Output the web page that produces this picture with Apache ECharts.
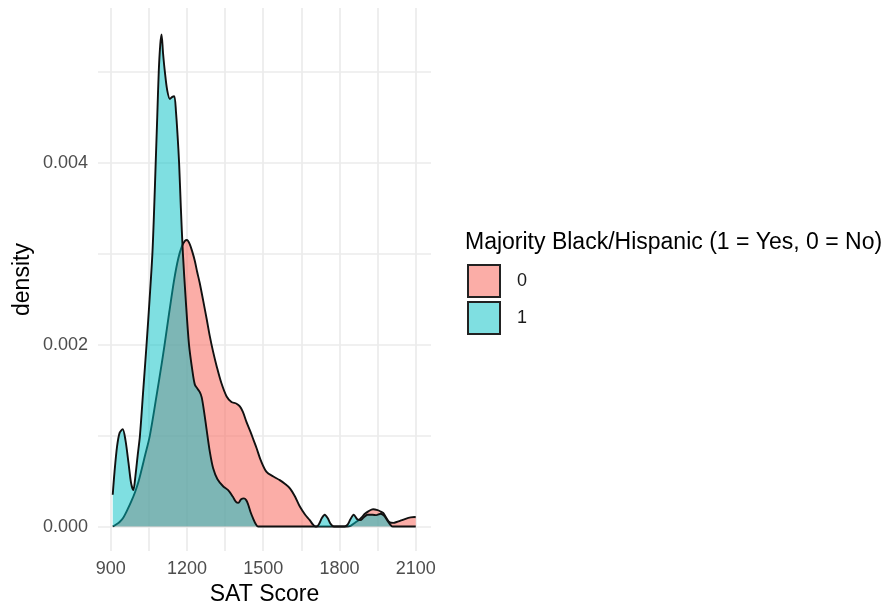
<!DOCTYPE html>
<html>
<head>
<meta charset="utf-8">
<script src="https://cdn.jsdelivr.net/npm/echarts@6/dist/echarts.min.js"></script>
<style>
html,body{margin:0;padding:0;background:#fff;}
#chart{width:890px;height:611px;}
</style>
</head>
<body>
<div id="chart"></div>
<script>
// SAT score grid (x) and density values (in units of 1e-3)
const groupNames = ['0', '1'];
const legendTitle = 'Majority Black/Hispanic (1 = Yes, 0 = No)';
const xTickLabels = [900, 1200, 1500, 1800, 2100];
const yTickLabels = [0, 0.002, 0.004];
const xGridValues = [900, 1050, 1200, 1350, 1500, 1650, 1800, 1950, 2100];
const yGridValues = [0, 0.001, 0.002, 0.003, 0.004, 0.005];

// group 0 (not majority Black/Hispanic)
const score0 = [908, 920, 935, 950, 965, 980, 996, 1010, 1035, 1054, 1081, 1100, 1112, 1130, 1150, 1166, 1180, 1192, 1200, 1210, 1220, 1231, 1240, 1250, 1264, 1277, 1290, 1303, 1317, 1335, 1356, 1375, 1395, 1408, 1420, 1434, 1450, 1462, 1474, 1490, 1513, 1540, 1565, 1585, 1605, 1625, 1644, 1665, 1683, 1696, 1705, 1750, 1800, 1830, 1845, 1860, 1875, 1887, 1900, 1915, 1932, 1950, 1962, 1972, 1985, 1998, 2012, 2025, 2040, 2060, 2080, 2095, 2100];
const density0 = [0.0, 0.02, 0.05, 0.10, 0.18, 0.27, 0.38, 0.50, 0.78, 1.00, 1.45, 1.78, 2.00, 2.35, 2.72, 2.95, 3.08, 3.14, 3.15, 3.11, 3.03, 2.92, 2.80, 2.68, 2.48, 2.29, 2.09, 1.92, 1.76, 1.58, 1.43, 1.37, 1.35, 1.32, 1.26, 1.15, 1.04, 0.95, 0.86, 0.73, 0.60, 0.55, 0.51, 0.47, 0.42, 0.33, 0.22, 0.13, 0.07, 0.02, 0.0, 0.0, 0.0, 0.0, 0.01, 0.04, 0.07, 0.10, 0.14, 0.17, 0.19, 0.18, 0.165, 0.15, 0.09, 0.045, 0.04, 0.05, 0.065, 0.085, 0.10, 0.105, 0.10];

// group 1 (majority Black/Hispanic)
const score1 = [908, 915, 925, 935, 947, 958, 970, 980, 989, 997, 1006, 1015, 1028, 1041, 1053, 1064, 1071, 1077, 1083, 1089, 1095, 1100, 1106, 1113, 1122, 1133, 1141, 1150, 1157, 1163, 1169, 1176, 1184, 1195, 1208, 1222, 1231, 1240, 1250, 1258, 1268, 1277, 1290, 1303, 1320, 1343, 1362, 1380, 1393, 1402, 1413, 1424, 1433, 1441, 1450, 1460, 1470, 1480, 1550, 1650, 1710, 1720, 1730, 1742, 1754, 1765, 1778, 1800, 1820, 1832, 1843, 1856, 1870, 1882, 1895, 1910, 1930, 1945, 1962, 1975, 1990, 2003, 2010, 2050, 2100];
const density1 = [0.35, 0.60, 0.88, 1.03, 1.07, 0.95, 0.70, 0.48, 0.40, 0.55, 0.78, 1.00, 1.50, 2.00, 2.50, 3.00, 3.50, 4.00, 4.50, 5.00, 5.30, 5.41, 5.20, 5.00, 4.80, 4.70, 4.72, 4.73, 4.55, 4.30, 4.00, 3.50, 3.00, 2.50, 2.00, 1.70, 1.56, 1.52, 1.48, 1.42, 1.25, 1.07, 0.82, 0.64, 0.52, 0.44, 0.40, 0.33, 0.27, 0.26, 0.30, 0.31, 0.29, 0.24, 0.16, 0.09, 0.03, 0.0, 0.0, 0.0, 0.0, 0.03, 0.09, 0.13, 0.09, 0.03, 0.0, 0.0, 0.0, 0.02, 0.08, 0.13, 0.08, 0.07, 0.10, 0.13, 0.13, 0.125, 0.14, 0.12, 0.06, 0.01, 0.0, 0.0, 0.0];

const fill0 = 'rgba(248,118,109,0.6)';
const fill1 = 'rgba(0,191,196,0.5)';
const font = 'Liberation Sans, Arial, Helvetica, sans-serif';

function pairs(xs, ys) { return xs.map((x, i) => [x, ys[i] / 1000]); }

const chart = echarts.init(document.getElementById('chart'));
chart.setOption({
  animation: false,
  backgroundColor: '#ffffff',
  title: {
    text: legendTitle, left: 465, top: 231, padding: 0,
    textStyle: { fontFamily: font, fontSize: 23, fontWeight: 'normal', color: '#000' }
  },
  legend: {
    orient: 'vertical', left: 467, top: 264, padding: 0,
    itemWidth: 32, itemHeight: 32, itemGap: 3, icon: 'rect',
    textStyle: { fontFamily: font, fontSize: 18, color: '#1a1a1a', padding: [0, 0, 0, 12] },
    data: [
      { name: groupNames[0], itemStyle: { color: fill0, borderColor: '#222', borderWidth: 2 } },
      { name: groupNames[1], itemStyle: { color: fill1, borderColor: '#222', borderWidth: 2 } }
    ]
  },
  grid: { left: 98, right: 459, top: 8, bottom: 54, containLabel: false },
  xAxis: {
    type: 'value', min: 850, max: 2160,
    name: 'SAT Score', nameLocation: 'middle', nameGap: 30,
    nameTextStyle: { fontFamily: font, fontSize: 23, color: '#000' },
    axisLine: { show: false }, axisTick: { show: false }, splitLine: { show: false },
    axisLabel: { customValues: xTickLabels, fontFamily: font, fontSize: 18, color: '#4D4D4D', margin: 9,
      formatter: v => String(v) }
  },
  yAxis: {
    type: 'value', min: -0.00027, max: 0.0057,
    name: 'density', nameLocation: 'middle', nameGap: 64, nameRotate: 90,
    nameTextStyle: { fontFamily: font, fontSize: 23, color: '#000' },
    axisLine: { show: false }, axisTick: { show: false }, splitLine: { show: false },
    axisLabel: { customValues: yTickLabels, fontFamily: font, fontSize: 18, color: '#4D4D4D', margin: 10,
      formatter: v => Number(v).toFixed(3) }
  },
  series: [
    {
      type: 'line', name: '__grid', data: [], silent: true, z: 0,
      markLine: {
        silent: true, symbol: 'none', z: 0, animation: false, precision: 8,
        label: { show: false },
        lineStyle: { color: '#EBEBEB', width: 1.7, type: 'solid' },
        emphasis: { disabled: true },
        data: xGridValues.map(v => ({ xAxis: v })).concat(yGridValues.map(v => ({ yAxis: v })))
      }
    },
    {
      type: 'line', name: groupNames[0], data: pairs(score0, density0), z: 2,
      smooth: 0.3, showSymbol: false, symbol: 'none',
      itemStyle: { color: '#F8766D' },
      lineStyle: { color: '#111', width: 1.9 },
      areaStyle: { color: fill0, opacity: 1 }
    },
    {
      type: 'line', name: groupNames[1], data: pairs(score1, density1), z: 3,
      smooth: 0.3, showSymbol: false, symbol: 'none',
      itemStyle: { color: '#00BFC4' },
      lineStyle: { color: '#111', width: 1.9 },
      areaStyle: { color: fill1, opacity: 1 }
    }
  ]
});
</script>
</body>
</html>
